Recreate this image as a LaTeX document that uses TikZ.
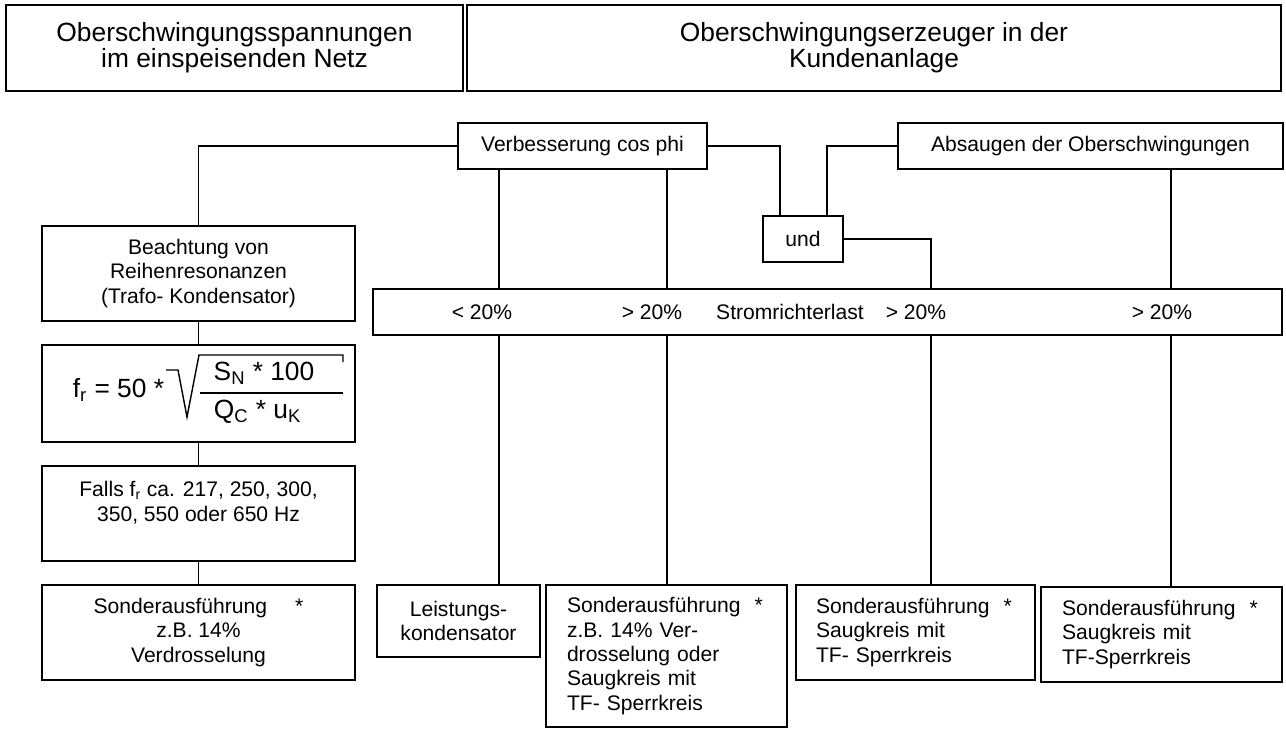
\documentclass[tikz,border=0pt]{standalone}
\usepackage{fontspec}
\setmainfont{Liberation Sans}
\newcommand{\tsub}[1]{\textsubscript{#1}}

\begin{document}
\begin{tikzpicture}[x=0.02cm, y=-0.02cm, line width=1pt,
  bnode/.style={draw, align=center, inner sep=2pt, font=\fontsize{12}{13.9}\selectfont},
  tnode/.style={draw, align=center, minimum height=1.72cm, font=\fontsize{15}{14.7}\selectfont},
  snode/.style={draw, align=left, text width=3.98cm, inner xsep=0.42cm, minimum height=1.9cm, font=\fontsize{12}{13.9}\selectfont},
  lnode/.style={inner sep=0pt, font=\fontsize{12}{13.9}\selectfont},
  fnode/.style={inner sep=0pt, font=\fontsize{15}{15}\selectfont}]
    \useasboundingbox (0,0) rectangle (1286,728);

    \node[tnode, minimum width=9.14cm] (netz) at (234.5,48) {Oberschwingungsspannungen\\im einspeisenden Netz};
    \node[tnode, minimum width=16.28cm] (kunde) at (874,48) {Oberschwingungserzeuger in der\\Kundenanlage};

    \node[bnode, minimum width=4.98cm, minimum height=0.92cm] (cosphi) at (582.5,146) {Verbesserung cos phi};
    \node[bnode, minimum width=7.7cm, minimum height=0.92cm] (absaug) at (1090.5,146) {Absaugen der Oberschwingungen};
    \node[bnode, minimum width=1.6cm, minimum height=0.92cm] (und) at (803,239) {und};
    \node[bnode, minimum width=6.26cm, minimum height=1.9cm] (beacht) at (198.5,273.5) {Beachtung von\\Reihenresonanzen\\(Trafo- Kondensator)};

    \node[bnode, minimum width=18.18cm, minimum height=0.92cm] (last) at (827.5,312) {};
    \node[lnode] (l1) at (482,312) {< 20\%};
    \node[lnode] (l2) at (652,312) {> 20\%};
    \node[lnode] (l3) at (790,312) {Stromrichterlast};
    \node[lnode] (l4) at (916,312) {> 20\%};
    \node[lnode] (l5) at (1162,312) {> 20\%};

    \node[bnode, minimum width=6.26cm, minimum height=1.94cm] (formel) at (198.5,393.5) {};
    \node[fnode] (fr) at (118.5,390) {f\tsub{r} = 50 *};
    \node[fnode] (zaehler) at (264,373) {S\tsub{N} * 100};
    \node[fnode] (nenner) at (257.5,412) {Q\tsub{C} * u\tsub{K}};
    \draw[line width=0.8pt] (166,370) -- (178,370) -- (187,417) -- (199,355) -- (343,355) -- (343,362);
    \draw[line width=0.8pt] (200,393) -- (343,393);

    \node[bnode, minimum width=6.26cm, minimum height=1.9cm] (falls) at (198.5,513.5) {Falls f\tsub{r} ca. 217, 250, 300,\\350, 550 oder 650 Hz\\~};
    \node[bnode, minimum width=6.26cm, minimum height=1.9cm] (sondera) at (198.5,632.5) {Sonderausführung\hspace{16pt}*\\z.B. 14\%\\Verdrosselung};
    \node[bnode, minimum width=3.26cm, minimum height=1.44cm] (leist) at (458.5,621) {Leistungs-\\kondensator};
    \node[snode, minimum height=2.84cm] (sonderb) at (666.5,656) {Sonderausführung~~*\\z.B. 14\% Ver-\\drosselung oder\\Saugkreis mit\\TF- Sperrkreis};
    \node[snode, inner xsep=0.4cm] (sonderc) at (915.5,632.5) {Sonderausführung~~*\\Saugkreis mit\\TF- Sperrkreis};
    \node[snode] (sonderd) at (1161.5,634.5) {Sonderausführung~~*\\Saugkreis mit\\TF-Sperrkreis};

    \coordinate (k1) at (499,0);
    \coordinate (k2) at (667,0);
    \coordinate (k3) at (780,0);
    \coordinate (k4) at (827,0);
    \coordinate (k5) at (931,0);
    \coordinate (k6) at (1171,0);

    \draw (cosphi.west) -| (beacht.north);
    \draw (beacht) -- (formel);
    \draw (formel) -- (falls);
    \draw (falls) -- (sondera);

    \draw (k1 |- cosphi.south) -- (k1 |- last.north);
    \draw (k2 |- cosphi.south) -- (k2 |- last.north);
    \draw (k1 |- last.south) -- (k1 |- leist.north);
    \draw (k2 |- last.south) -- (k2 |- sonderb.north);

    \draw (cosphi.east) -| (k3 |- und.north);
    \draw (absaug.west) -| (k4 |- und.north);
    \draw (und.east) -| (k5 |- last.north);
    \draw (k5 |- last.south) -- (k5 |- sonderc.north);
    \draw (k6 |- absaug.south) -- (k6 |- last.north);
    \draw (k6 |- last.south) -- (k6 |- sonderd.north);
\end{tikzpicture}
\end{document}
